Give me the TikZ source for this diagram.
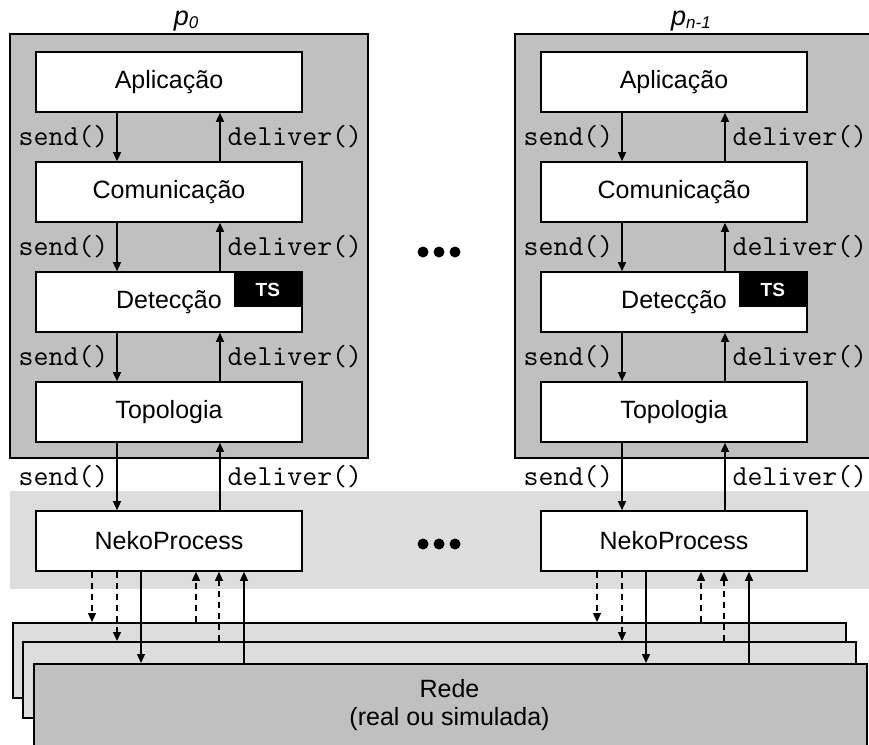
\documentclass[tikz,border=0pt]{standalone}
\usepackage{fontspec}
\setmainfont{Liberation Sans}
\usetikzlibrary{arrows.meta}
\definecolor{procgray}{gray}{0.753}
\definecolor{bandgray}{gray}{0.867}
\tikzset{
  layerbox/.style={draw=black, line width=1.6pt, fill=white, minimum width=266pt, minimum height=60pt, inner sep=0pt, font=\fontsize{25}{30}\selectfont},
  procbox/.style={draw=black, line width=1.6pt, fill=procgray, minimum width=358pt, minimum height=424pt, anchor=north west, inner sep=0pt},
  netbox/.style={draw=black, line width=1.6pt, anchor=north west, inner sep=0pt, minimum width=833pt},
  arr/.style={line width=1.3pt, -{Triangle[length=9pt,width=8pt]}},
  darr/.style={arr, dash pattern=on 6pt off 5pt},
  lbl/.style={font=\ttfamily\fontsize{29}{32}\selectfont, inner sep=0pt},
  tsbox/.style={fill=black, text=white, font=\bfseries\fontsize{19}{22}\selectfont, minimum width=68pt, minimum height=35pt, anchor=north east, inner sep=0pt},
  plabel/.style={font=\itshape\fontsize{27}{30}\selectfont, anchor=base, inner sep=0pt},
  dot/.style={fill=black},
}
\begin{document}
\begin{tikzpicture}[x=1pt, y=-1pt]
\useasboundingbox (0,0) rectangle (869,744);
\clip (0,0) rectangle (869,744);
\fill[white] (0,0) rectangle (869,744);
% light band
\fill[bandgray] (10,491) rectangle (880,589);
% network layers
\node[netbox, fill=bandgray, minimum height=75pt] (L1) at (12,622) {};
\node[netbox, fill=bandgray, minimum height=76pt] (L2) at (22,641) {};
\node[netbox, fill=procgray, minimum height=100pt] (L3) at (33,663) {};
\node[font=\fontsize{25}{28}\selectfont, align=center] (rede) at (449.5,705) {Rede\\(real ou simulada)};
% ellipses
\foreach \yy in {252,544} {
  \fill[dot] (423,\yy) circle (5.5);
  \fill[dot] (439,\yy) circle (5.5);
  \fill[dot] (455,\yy) circle (5.5);
}
\foreach \i/\dx/\lab in {0/0/0, 1/505/n-1} {
  \node[procbox] (g\i) at (9+\dx,33) {};
  \node[plabel] (p\i) at (186+\dx,25) {p\raisebox{-3pt}{\fontsize{17}{17}\selectfont\lab}};
  \node[layerbox] (a\i) at (169+\dx,82) {Aplicação};
  \node[layerbox] (c\i) at (169+\dx,192) {Comunicação};
  \node[layerbox] (d\i) at (169+\dx,302) {Detecção};
  \node[tsbox] (ts\i) at ([xshift=-0.8pt,yshift=-0.8pt]d\i.north east) {TS};
  \node[layerbox] (t\i) at (169+\dx,412) {Topologia};
  \node[layerbox] (n\i) at (169+\dx,541) {NekoProcess};
  % send / deliver
  \draw[arr] ([xshift=-52pt]a\i.south) -- node[lbl,left=8pt]{send()} ([xshift=-52pt]c\i.north);
  \draw[arr] ([xshift=51pt]c\i.north) -- node[lbl,right=7pt]{deliver()} ([xshift=51pt]a\i.south);
  \draw[arr] ([xshift=-52pt]c\i.south) -- node[lbl,left=8pt]{send()} ([xshift=-52pt]d\i.north);
  \draw[arr] ([xshift=51pt]d\i.north) -- node[lbl,right=7pt]{deliver()} ([xshift=51pt]c\i.south);
  \draw[arr] ([xshift=-52pt]d\i.south) -- node[lbl,left=8pt]{send()} ([xshift=-52pt]t\i.north);
  \draw[arr] ([xshift=51pt]t\i.north) -- node[lbl,right=7pt]{deliver()} ([xshift=51pt]d\i.south);
  \draw[arr] ([xshift=-52pt]t\i.south) -- node[lbl,left=8pt]{send()} ([xshift=-52pt]n\i.north);
  \draw[arr] ([xshift=51pt]n\i.north) -- node[lbl,right=7pt]{deliver()} ([xshift=51pt]t\i.south);
  % to network
  \path ([xshift=-77pt]n\i.south) coordinate (da\i)
        ([xshift=-52pt]n\i.south) coordinate (db\i)
        ([xshift=-28pt]n\i.south) coordinate (dc\i)
        ([xshift=27pt]n\i.south) coordinate (ua\i)
        ([xshift=50pt]n\i.south) coordinate (ub\i)
        ([xshift=75pt]n\i.south) coordinate (uc\i);
  \draw[darr] (da\i) -- (da\i |- L1.north);
  \draw[darr] (db\i) -- (db\i |- L2.north);
  \draw[arr] (dc\i) -- (dc\i |- L3.north);
  \draw[darr] (ua\i |- L1.north) -- (ua\i);
  \draw[darr] (ub\i |- L2.north) -- (ub\i);
  \draw[arr] (uc\i |- L3.north) -- (uc\i);
}
\end{tikzpicture}
\end{document}
